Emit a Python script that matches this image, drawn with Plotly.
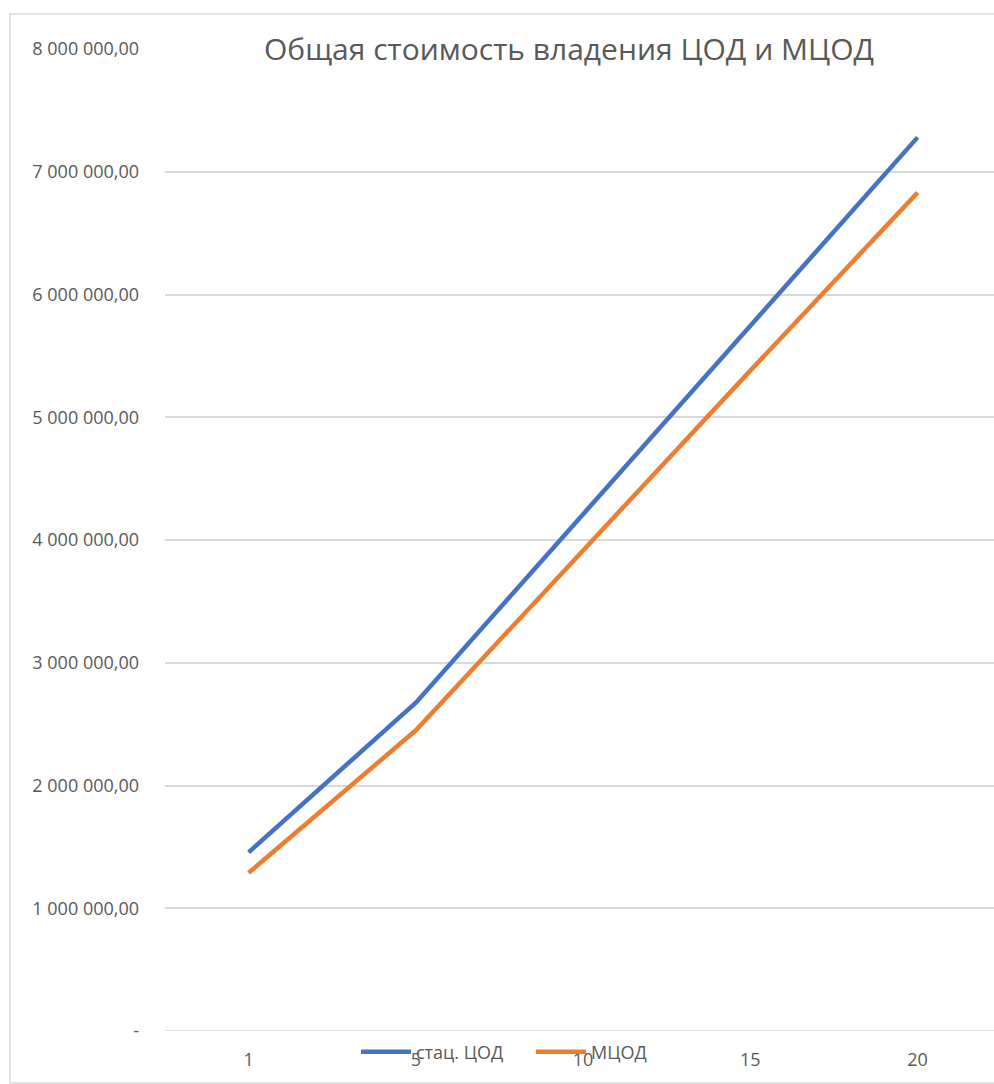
import plotly.graph_objects as go

years = ["1", "5", "10", "15", "20"]
stat_cod = [1455000, 2675000, 4210000, 5745000, 7280000]
mcod = [1288000, 2450000, 3915000, 5380000, 6830000]
y_tick_vals = [0, 1000000, 2000000, 3000000, 4000000, 5000000, 6000000, 7000000, 8000000]
y_tick_text = ["-", "1 000 000,00", "2 000 000,00", "3 000 000,00", "4 000 000,00",
               "5 000 000,00", "6 000 000,00", "7 000 000,00", "8 000 000,00"]

FONT = "Open Sans, sans-serif"
GREY = "#595959"

fig = go.Figure()
fig.add_trace(go.Scatter(x=years, y=stat_cod, mode="lines", name="стац. ЦОД",
                         line=dict(color="#4472C4", width=4.5)))
fig.add_trace(go.Scatter(x=years, y=mcod, mode="lines", name="МЦОД",
                         line=dict(color="#ED7D31", width=4.5)))

fig.update_layout(
    width=994, height=1084,
    margin=dict(l=165, r=0, t=49, b=53),
    paper_bgcolor="white", plot_bgcolor="white",
    font=dict(family=FONT, color=GREY, size=18),
    title=dict(text="Общая стоимость владения ЦОД и МЦОД",
               x=(569 - 165) / 829, xref="paper", xanchor="center",
               y=1 - 49 / 1084, yref="container", yanchor="middle",
               font=dict(family=FONT, size=30, color=GREY)),
    showlegend=True,
    legend=dict(orientation="h", x=(356 - 165) / 829, xanchor="left",
                y=-21 / 982, yanchor="middle", bgcolor="rgba(0,0,0,0)",
                font=dict(family=FONT, size=18, color=GREY),
                itemwidth=50, entrywidth=110, entrywidthmode="pixels",
                tracegroupgap=0),
    xaxis=dict(type="category", range=[-0.5, 4.457], showgrid=False,
               showline=False, zeroline=False, ticks="", ticklabelstandoff=16,
               tickfont=dict(family=FONT, size=18, color=GREY)),
    yaxis=dict(range=[0, 8000000], tickvals=y_tick_vals, ticktext=y_tick_text,
               showgrid=True, gridcolor="#D9D9D9", gridwidth=1.5,
               zeroline=False, showline=False, ticks="", ticklabelstandoff=25,
               tickfont=dict(family=FONT, size=18, color=GREY)),
    shapes=[dict(type="line", xref="paper", yref="y", x0=0, x1=1.01, y0=0, y1=0,
                 line=dict(color="#D9D9D9", width=1.5)),
            dict(type="rect", xref="paper", yref="paper",
                 x0=(10 - 165) / 829, x1=1.02, y0=(1031 - 1083) / 982, y1=(1031 - 14) / 982,
                 line=dict(color="#D9D9D9", width=1.5), fillcolor="rgba(0,0,0,0)",
                 layer="below")],
)

fig.write_html("out.html")
